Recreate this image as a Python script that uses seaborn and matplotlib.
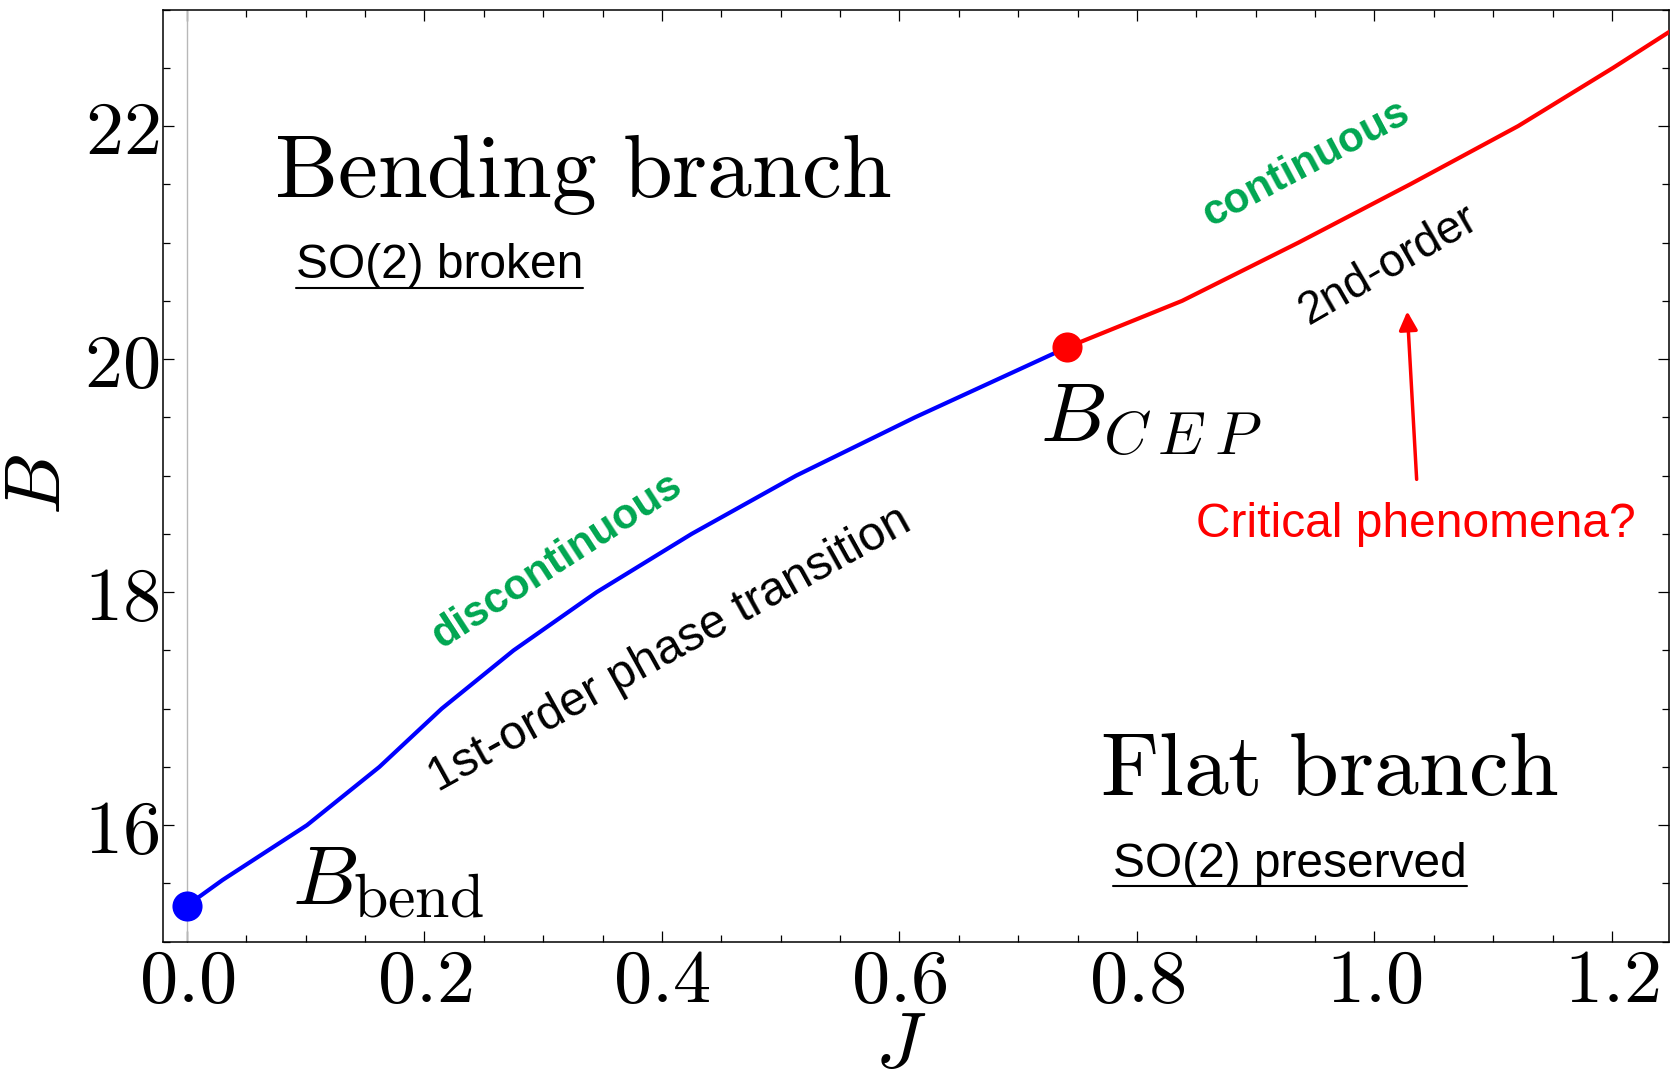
import numpy as np
import pandas as pd
import seaborn as sns
import matplotlib
matplotlib.use("Agg")
import matplotlib.pyplot as plt
from matplotlib.ticker import MultipleLocator, FuncFormatter
from matplotlib.lines import Line2D

# ---------------- data ----------------
J_first = [0.0, 0.030, 0.101, 0.162, 0.2145, 0.275, 0.345, 0.425, 0.513, 0.613, 0.741]
B_first = [15.31, 15.53, 16.0, 16.5, 17.0, 17.5, 18.0, 18.5, 19.0, 19.5, 20.1]
J_second = [0.741, 0.838, 0.936, 1.030, 1.121, 1.201, 1.25]
B_second = [20.1, 20.5, 21.0, 21.5, 22.0, 22.5, 22.82]
J_bend, B_bend = [0.0], [15.31]
J_cep, B_cep = [0.741], [20.1]
x_ticks = [0.0, 0.2, 0.4, 0.6, 0.8, 1.0, 1.2]
y_ticks = [16, 18, 20, 22]

sns.set_theme(style="ticks")
plt.rcParams.update({
    "font.family": ["Liberation Sans", "DejaVu Sans"],
    "mathtext.fontset": "cm",
    "text.color": "black",
    "axes.labelcolor": "black",
    "xtick.color": "black", "ytick.color": "black",
    "xtick.direction": "in", "ytick.direction": "in",
    "xtick.top": True, "ytick.right": True,
    "axes.linewidth": 1.1,
    "axes.edgecolor": "black",
})

fig = plt.figure(figsize=(16.70, 10.71), dpi=100)
ax = fig.add_axes([0.0976, 0.1207, 0.9018, 0.8704])

df1 = pd.DataFrame({"J": J_first, "B": B_first})
df2 = pd.DataFrame({"J": J_second, "B": B_second})
ax.axvline(0.0, color="#b8b8b8", lw=1.0, zorder=1)
sns.lineplot(data=df1, x="J", y="B", color="#0000ff", lw=3.0, sort=False, estimator=None, ax=ax, zorder=3)
sns.lineplot(data=df2, x="J", y="B", color="#ff0000", lw=3.0, sort=False, estimator=None, ax=ax, zorder=3)
sns.scatterplot(x=J_bend, y=B_bend, color="#0000ff", s=470, linewidth=0, ax=ax, zorder=5, clip_on=False)
sns.scatterplot(x=J_cep, y=B_cep, color="#ff0000", s=470, linewidth=0, ax=ax, zorder=5)

ax.set_xlim(-0.0202, 1.248)
ax.set_ylim(15.0, 23.0)
ax.set_xticks(x_ticks)
ax.set_yticks(y_ticks)
ax.xaxis.set_minor_locator(MultipleLocator(0.05))
ax.yaxis.set_minor_locator(MultipleLocator(0.5))
ax.xaxis.set_major_formatter(FuncFormatter(lambda v, p: f"${v:.1f}$"))
ax.yaxis.set_major_formatter(FuncFormatter(lambda v, p: f"${v:.0f}$"))
ax.tick_params(which="major", length=7.7, width=0.9, labelsize=55, colors="black")
ax.tick_params(which="minor", length=4.8, width=0.9)
ax.tick_params(axis="y", which="major", pad=2.5)
ax.tick_params(axis="x", which="major", pad=4)
for s in ax.spines.values():
    s.set_visible(True)
    s.set_color("black")

ax.set_xlabel(r"$J$", fontsize=56)
ax.set_ylabel(r"$B$", fontsize=56)
ax.xaxis.set_label_coords(0.49, -0.073)
ax.yaxis.set_label_coords(-0.058, 0.49)

# big region labels
ax.text(0.0735, 21.394, r"$\mathrm{Bending\ branch}$", fontsize=64.5, ha="left", va="baseline")
ax.text(0.769, 16.261, r"$\mathrm{Flat\ branch}$", fontsize=64.5, ha="left", va="baseline")
# B_bend
ax.text(0.0882, 15.328, r"$B$", fontsize=60, ha="left", va="baseline")
ax.text(0.140, 15.214, r"$\mathrm{bend}$", fontsize=44.5, ha="left", va="baseline")
# B_CEP
ax.text(0.718, 19.296, r"$B$", fontsize=60, ha="left", va="baseline")
ax.text(0.7716, 19.182, r"$C\:E\:P$", fontsize=43.5, ha="left", va="baseline")

t_broken = ax.text(0.0915, 20.695, "SO(2) broken", fontsize=34.5, ha="left", va="baseline")
t_pres = ax.text(0.780, 15.556, "SO(2) preserved", fontsize=34.5, ha="left", va="baseline")

green = "#00a651"
ax.text(0.412, 17.413, "1st-order phase transition", fontsize=34.5, rotation=29,
        rotation_mode="anchor", ha="center", va="baseline")
ax.text(0.3165, 18.188, "discontinuous", fontsize=30.5, fontweight="bold", color=green,
        rotation=33, rotation_mode="anchor", ha="center", va="baseline")
ax.text(0.947, 21.59, "continuous", fontsize=30.5, fontweight="bold", color=green,
        rotation=28, rotation_mode="anchor", ha="center", va="baseline")
ax.text(1.017, 20.717, "2nd-order", fontsize=33, rotation=30,
        rotation_mode="anchor", ha="center", va="baseline")
ax.text(0.850, 18.477, "Critical phenomena?", fontsize=34.5, color="#ff0000", ha="left", va="baseline")
ax.annotate("", xy=(1.0276, 20.41), xytext=(1.0355, 18.968),
            arrowprops=dict(arrowstyle="-|>", color="#ff0000", lw=2.5, mutation_scale=28,
                            shrinkA=0, shrinkB=0))

# underlines
fig.canvas.draw()
renderer = fig.canvas.get_renderer()
inv = fig.transFigure.inverted()
for t, (tx, ty) in [(t_broken, (0.0915, 20.695)), (t_pres, (0.780, 15.556))]:
    bb = t.get_window_extent(renderer)
    base = ax.transData.transform((tx, ty))[1]
    uy = base - 9.5
    p0 = inv.transform((bb.x0, uy))
    p1 = inv.transform((bb.x1, uy))
    fig.add_artist(Line2D([p0[0], p1[0]], [p0[1], p1[1]], color="black", lw=1.5,
                          transform=fig.transFigure))

fig.savefig("out.png", dpi=100)
